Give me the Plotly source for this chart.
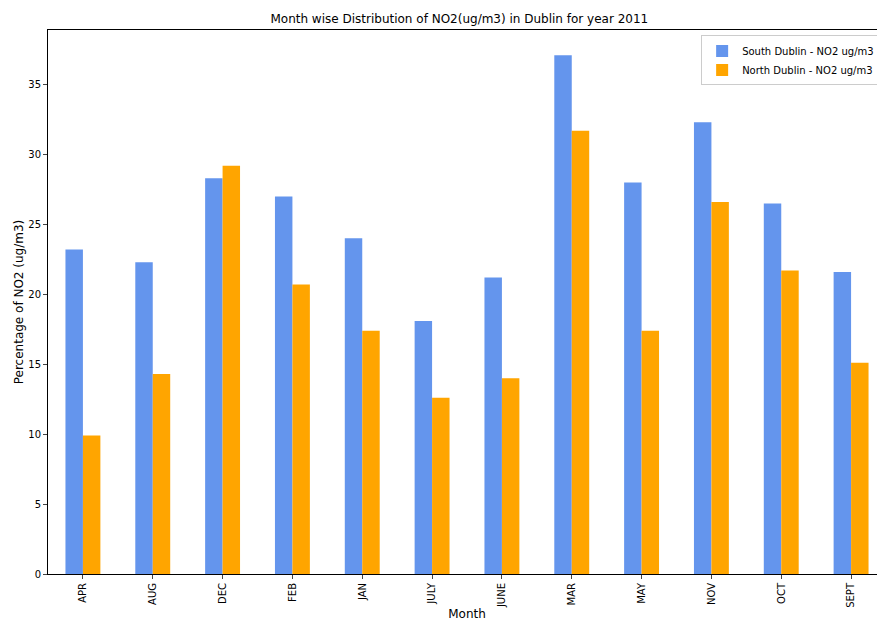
import plotly.graph_objects as go

months = ["APR", "AUG", "DEC", "FEB", "JAN", "JULY", "JUNE", "MAR", "MAY", "NOV", "OCT", "SEPT"]
south_no2 = [23.2, 22.3, 28.3, 27.0, 24.0, 18.1, 21.2, 37.1, 28.0, 32.3, 26.5, 21.6]
north_no2 = [9.9, 14.3, 29.2, 20.7, 17.4, 12.6, 14.0, 31.7, 17.4, 26.6, 21.7, 15.1]
y_ticks = [0, 5, 10, 15, 20, 25, 30, 35]

fig = go.Figure()
fig.add_trace(go.Bar(x=months, y=south_no2, name="South Dublin - NO2 ug/m3",
                     marker_color="cornflowerblue", marker_line_width=0))
fig.add_trace(go.Bar(x=months, y=north_no2, name="North Dublin - NO2 ug/m3",
                     marker_color="orange", marker_line_width=0))

fig.update_layout(
    width=885, height=619,
    barmode="group", bargap=0.5, bargroupgap=0,
    paper_bgcolor="white", plot_bgcolor="white",
    font=dict(family="DejaVu Sans", size=10, color="black"),
    margin=dict(l=40, r=7, t=22, b=53, autoexpand=False),
    title=dict(text="Month wise Distribution of NO2(ug/m3) in Dublin for year 2011",
               x=0.51, xanchor="center", y=0.99, yanchor="top", font=dict(size=12)),
    legend=dict(x=0.993, y=0.99, xanchor="right", yanchor="top",
                bgcolor="white", bordercolor="#cccccc", borderwidth=1,
                tracegroupgap=0, itemsizing="constant", font=dict(size=10)),
    showlegend=True,
)
fig.update_xaxes(title_text="Month", tickangle=-90, showline=True, linecolor="black",
                 mirror=True, ticks="outside", ticklen=4, title_standoff=2, automargin=False)
fig.update_yaxes(title_text="Percentage of NO2 (ug/m3)", range=[0, 38.9], tickvals=y_ticks,
                 showgrid=False, showline=True, linecolor="black", mirror=True,
                 ticks="outside", ticklen=4, zeroline=False, title_standoff=2, automargin=False)

fig.write_html("out.html")
